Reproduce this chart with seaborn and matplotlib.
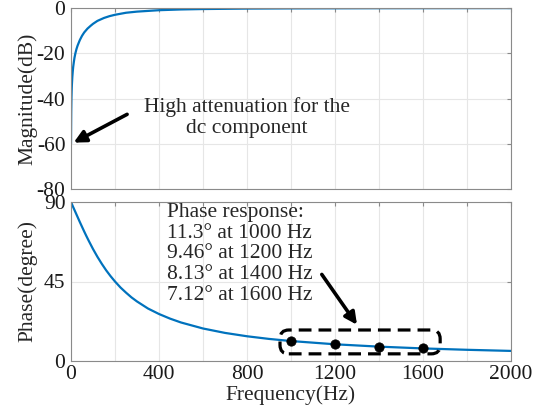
import numpy as np
import pandas as pd
import matplotlib
matplotlib.use("Agg")
import matplotlib.pyplot as plt
import seaborn as sns
from matplotlib.patches import FancyBboxPatch

# Data
mag_freq = [0, 0.5, 1, 2, 3, 4, 6, 8, 10, 13, 16, 20, 25, 30, 40, 50, 60, 75, 90, 100, 120, 150,
            175, 200, 250, 300, 400, 500, 600, 800, 1000, 1400, 2000]
mag_db = [-60, -52, -46, -40, -36.5, -34, -30.5, -28, -26, -23.8, -21.9, -20, -18.1, -16.6, -14.2,
          -12.3, -10.8, -9.1, -7.8, -7.0, -5.7, -4.4, -3.6, -3.0, -2.1, -1.6, -0.97, -0.64, -0.46,
          -0.26, -0.17, -0.09, -0.04]
ph_freq = [0, 10, 20, 30, 40, 50, 60, 70, 80, 90, 100, 120, 140, 160, 180, 200, 225, 250, 275, 300,
           350, 400, 450, 500, 600, 700, 800, 900, 1000, 1200, 1400, 1600, 1800, 2000]
ph_deg = [90, 87.1, 84.3, 81.5, 78.7, 76.0, 73.3, 70.7, 68.2, 65.8, 63.4, 59.0, 55.0, 51.3, 48.0,
          45, 41.6, 38.7, 36.0, 33.7, 29.7, 26.6, 24.0, 21.8, 18.4, 15.9, 14.0, 12.5, 11.3, 9.46,
          8.13, 7.12, 6.34, 5.71]
mark_freq = [1000, 1200, 1400, 1600]
mark_deg = [11.3, 9.46, 8.13, 7.12]
x_ticks = [0, 200, 400, 600, 800, 1000, 1200, 1400, 1600, 1800, 2000]
x_labels = ["0", "", "400", "", "800", "", "1200", "", "1600", "", "2000"]
mag_ticks = [0, -20, -40, -60, -80]
ph_ticks = [0, 45, 90]

sns.set_style("white")
plt.rcParams['font.family'] = ['Liberation Serif', 'DejaVu Serif']

FS = 15.5
blue = "#0072BD"
fig = plt.figure(figsize=(5.41, 4.07), dpi=100)
W, H = 541, 407
ax1 = fig.add_axes([71 / W, 1 - 189 / H, 440 / W, 181 / H])
ax2 = fig.add_axes([71 / W, 1 - 361 / H, 440 / W, 159 / H])

df_m = pd.DataFrame({"f": mag_freq, "m": mag_db})
df_p = pd.DataFrame({"f": ph_freq, "p": ph_deg})
sns.lineplot(data=df_m, x="f", y="m", ax=ax1, color=blue, lw=1.6)
sns.lineplot(data=df_p, x="f", y="p", ax=ax2, color=blue, lw=1.6)
sns.scatterplot(x=mark_freq, y=mark_deg, ax=ax2, color="black", s=45, zorder=5, edgecolor="black")

for ax in (ax1, ax2):
    ax.set_xlim(0, 2000)
    ax.set_xticks(x_ticks)
    ax.grid(True, color="#e6e6e6", lw=0.8)
    ax.tick_params(direction="in", length=3, labelsize=FS, colors="#1a1a1a", top=True, right=True)
    ax.tick_params(axis="both", which="both", color="#8a8a8a")
    ax.tick_params(axis="y", pad=4)
    ax.tick_params(axis="x", pad=3)
    for s in ax.spines.values():
        s.set_color("#8a8a8a")
        s.set_linewidth(0.8)
    ax.set_axisbelow(True)

ax1.set_ylim(-80, 0)
ax1.set_yticks(mag_ticks)
ax1.set_yticklabels([str(t) for t in mag_ticks])
ax1.set_xticklabels([])
ax1.set_xlabel("")
ax1.set_ylabel("Magnitude(dB)", fontsize=FS)
ax1.yaxis.set_label_coords(-0.076, 0.5)

ax2.set_ylim(0, 90)
ax2.set_yticks(ph_ticks)
ax2.set_xticklabels(x_labels)
ax2.set_xlabel("Frequency(Hz)", fontsize=FS, labelpad=1)
ax2.set_ylabel("Phase(degree)", fontsize=FS)
ax2.yaxis.set_label_coords(-0.076, 0.5)

ax1.text(0.40, 0.395, "High attenuation for the\ndc component", transform=ax1.transAxes,
         ha="center", va="center", fontsize=FS, linespacing=1.1)
ax1.annotate("", xy=(12, -59.5), xytext=(255, -47),
             arrowprops=dict(arrowstyle="-|>", lw=2.6, color="black", mutation_scale=18,
                             shrinkA=0, shrinkB=0))

ax2.text(0.218, 0.995, "Phase response:\n11.3° at 1000 Hz\n9.46° at 1200 Hz\n8.13° at 1400 Hz\n7.12° at 1600 Hz",
         transform=ax2.transAxes, ha="left", va="top", fontsize=FS, linespacing=1.13)
ax2.annotate("", xy=(1300, 20.5), xytext=(1140, 49),
             arrowprops=dict(arrowstyle="-|>", lw=2.6, color="black", mutation_scale=18,
                             shrinkA=0, shrinkB=0))

box = FancyBboxPatch((0.475, 0.045), 0.364, 0.15, transform=ax2.transAxes,
                     boxstyle="round,pad=0,rounding_size=0.02", mutation_aspect=2.77,
                     fill=False, edgecolor="black", lw=2.3, linestyle=(0, (4, 2.2)), zorder=6,
                     clip_on=False)
ax2.add_patch(box)

fig.savefig("out.png", dpi=100)
